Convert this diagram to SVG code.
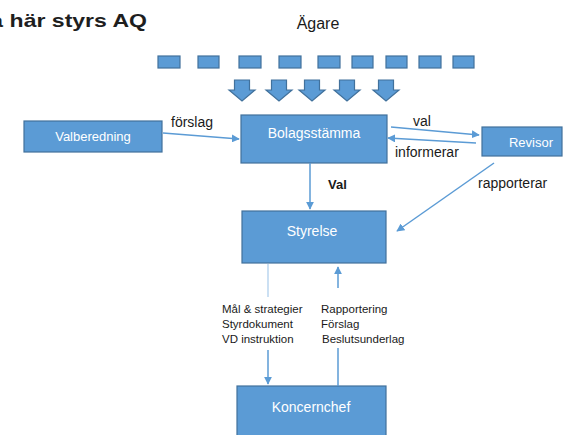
<svg xmlns="http://www.w3.org/2000/svg" width="563" height="435" viewBox="0 0 563 435">
<style>
.box{fill:#5B9BD5;stroke:#41719C;stroke-width:1.2}
.bt{fill:#ffffff;font-family:"Liberation Sans",Arial,sans-serif;font-size:14px;text-anchor:middle}
.lbl{fill:#1a1a1a;font-family:"Liberation Sans",Arial,sans-serif;font-size:14px}
.sm{fill:#1a1a1a;font-family:"Liberation Sans",Arial,sans-serif;font-size:11.5px}
.ln{stroke:#5B9BD5;stroke-width:1.5;fill:none}
.arr{marker-end:url(#ah)}
</style>
<defs>
<marker id="ah" viewBox="0 0 10 10" refX="9" refY="5" markerWidth="8" markerHeight="8" markerUnits="userSpaceOnUse" orient="auto">
<path d="M0,0 L10,5 L0,10 z" fill="#5B9BD5"/>
</marker>
<path id="darr" d="M-7.5,0 H7.5 V10 H13 L0,21 L-13,10 H-7.5 z"/>
</defs>
<rect width="563" height="435" fill="#ffffff"/>
<text x="-25" y="27" textLength="172" lengthAdjust="spacingAndGlyphs" style="fill:#1e1e1e;font-family:'Liberation Sans',Arial,sans-serif;font-size:19px;font-weight:bold">Så här styrs AQ</text>
<g id="agare">
<text x="318" y="29" text-anchor="middle" class="lbl" style="font-size:16px">Ägare</text>
<rect class="box" x="158" y="56" width="22" height="12"/>
<rect class="box" x="198" y="56" width="21" height="12"/>
<rect class="box" x="239" y="56" width="22" height="12"/>
<rect class="box" x="279" y="56" width="22" height="12"/>
<rect class="box" x="318" y="56" width="22" height="12"/>
<rect class="box" x="352" y="56" width="21" height="12"/>
<rect class="box" x="386" y="56" width="21" height="12"/>
<rect class="box" x="419" y="56" width="22" height="12"/>
<rect class="box" x="453" y="56" width="21" height="12"/>
<use href="#darr" x="242" y="80" class="box"/>
<use href="#darr" x="279" y="80" class="box"/>
<use href="#darr" x="312" y="80" class="box"/>
<use href="#darr" x="347" y="80" class="box"/>
<use href="#darr" x="386" y="80" class="box"/>
</g>
<g id="valberedning">
<rect class="box" x="24" y="121" width="138" height="31"/>
<text class="bt" x="93" y="141" style="font-size:13px">Valberedning</text>
</g>
<g id="bolagsstamma">
<rect class="box" x="241" y="115" width="146" height="48"/>
<text class="bt" x="314" y="138">Bolagsstämma</text>
</g>
<g id="revisor">
<rect class="box" x="482" y="127" width="80" height="29"/>
<text class="bt" x="531" y="147" style="font-size:13px">Revisor</text>
</g>
<g id="styrelse">
<rect class="box" x="242" y="211" width="144" height="52"/>
<text class="bt" x="312" y="236">Styrelse</text>
</g>
<g id="koncernchef">
<rect class="box" x="237" y="386" width="149" height="60"/>
<text class="bt" x="311" y="412">Koncernchef</text>
</g>
<g id="connectors">
<line class="ln arr" x1="163" y1="133" x2="239" y2="139"/>
<line class="ln arr" x1="391" y1="127" x2="479" y2="135"/>
<line class="ln arr" x1="476" y1="143" x2="388" y2="138"/>
<line class="ln arr" x1="494" y1="163" x2="397" y2="231"/>
<line class="ln arr" x1="310" y1="163" x2="310" y2="209"/>
<line x1="268" y1="264" x2="268" y2="297" style="stroke:#A9CBEB;stroke-width:1.2"/>
<line class="ln arr" x1="268" y1="350" x2="268" y2="384"/>
<line class="ln" x1="338" y1="386" x2="338" y2="348"/>
<line class="ln arr" x1="338" y1="288" x2="338" y2="267"/>
<text class="lbl" x="171" y="127">förslag</text>
<text class="lbl" x="413" y="126">val</text>
<text class="lbl" x="395" y="157">informerar</text>
<text class="lbl" x="478" y="188">rapporterar</text>
<text class="lbl" x="328" y="189" style="font-size:13px;font-weight:bold">Val</text>
<text class="sm" x="222" y="313">Mål &amp; strategier</text>
<text class="sm" x="222" y="328">Styrdokument</text>
<text class="sm" x="222" y="343">VD instruktion</text>
<text class="sm" x="321" y="313">Rapportering</text>
<text class="sm" x="321" y="328">Förslag</text>
<text class="sm" x="322" y="343">Beslutsunderlag</text>
</g>
</svg>
